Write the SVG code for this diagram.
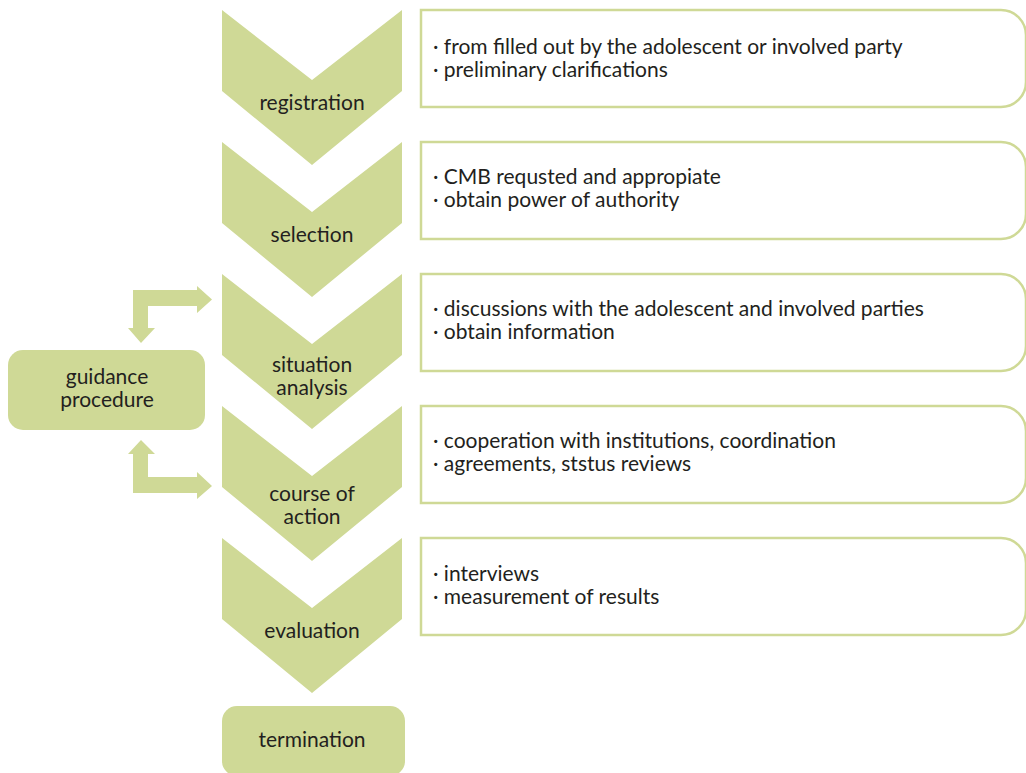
<svg xmlns="http://www.w3.org/2000/svg" width="1026" height="773" viewBox="0 0 1026 773">
<defs>
<style>
.g{fill:#cfd996}
.box{fill:#fff;stroke:#cfd996;stroke-width:2.5}
text{font-family:Lato,"Liberation Sans",sans-serif;font-size:21px;fill:#231f20}
.c{text-anchor:middle}
</style>
<path id="chev" d="M0,0 L90,70 L180,0 L180,81 L90,155 L0,81 Z"/>
<path id="rbox" d="M0,0 H580 A25,25 0 0 1 605,25 V72 A25,25 0 0 1 580,97 H0 Z"/>
</defs>
<rect width="1026" height="773" fill="#fff"/>
<g id="registration">
<use href="#chev" x="222" y="10" class="g"/>
<text x="312" y="110" class="c">registration</text>
</g>
<g id="selection">
<use href="#chev" x="222" y="142" class="g"/>
<text x="312" y="242" class="c">selection</text>
</g>
<g id="situation-analysis">
<use href="#chev" x="222" y="274" class="g"/>
<text x="312" y="372" class="c">situation</text>
<text x="312" y="395" class="c">analysis</text>
</g>
<g id="course-of-action">
<use href="#chev" x="222" y="406" class="g"/>
<text x="312" y="501" class="c">course of</text>
<text x="312" y="524" class="c">action</text>
</g>
<g id="evaluation">
<use href="#chev" x="222" y="538" class="g"/>
<text x="312" y="638" class="c">evaluation</text>
</g>
<g id="termination">
<rect x="222" y="706" width="183" height="70" rx="15" class="g"/>
<text x="312" y="747" class="c">termination</text>
</g>
<g id="guidance-procedure">
<rect x="8" y="350" width="197" height="80" rx="15" class="g"/>
<text x="107" y="384" class="c">guidance</text>
<text x="107" y="407" class="c">procedure</text>
</g>
<g id="box-registration">
<use href="#rbox" x="421" y="10" class="box"/>
<text x="433" y="54">· from filled out by the adolescent or involved party</text>
<text x="433" y="77">· preliminary clarifications</text>
</g>
<g id="box-selection">
<use href="#rbox" x="421" y="142" class="box"/>
<text x="433" y="184">· CMB requsted and appropiate</text>
<text x="433" y="207">· obtain power of authority</text>
</g>
<g id="box-situation">
<use href="#rbox" x="421" y="274" class="box"/>
<text x="433" y="316">· discussions with the adolescent and involved parties</text>
<text x="433" y="339">· obtain information</text>
</g>
<g id="box-course">
<use href="#rbox" x="421" y="406" class="box"/>
<text x="433" y="448">· cooperation with institutions, coordination</text>
<text x="433" y="471">· agreements, ststus reviews</text>
</g>
<g id="box-evaluation">
<use href="#rbox" x="421" y="538" class="box"/>
<text x="433" y="581">· interviews</text>
<text x="433" y="604">· measurement of results</text>
</g>
<g id="connectors" class="g">
<path d="M133,290 H197 V286 L212,299.5 L197,313 V306 H148 V328 H155 L141,343 L128,328 H133 Z"/>
<path d="M133,493 H197 V499 L212,486 L197,472 V477 H148 V454 H155 L141,440 L128,454 H133 Z"/>
</g>
</svg>
